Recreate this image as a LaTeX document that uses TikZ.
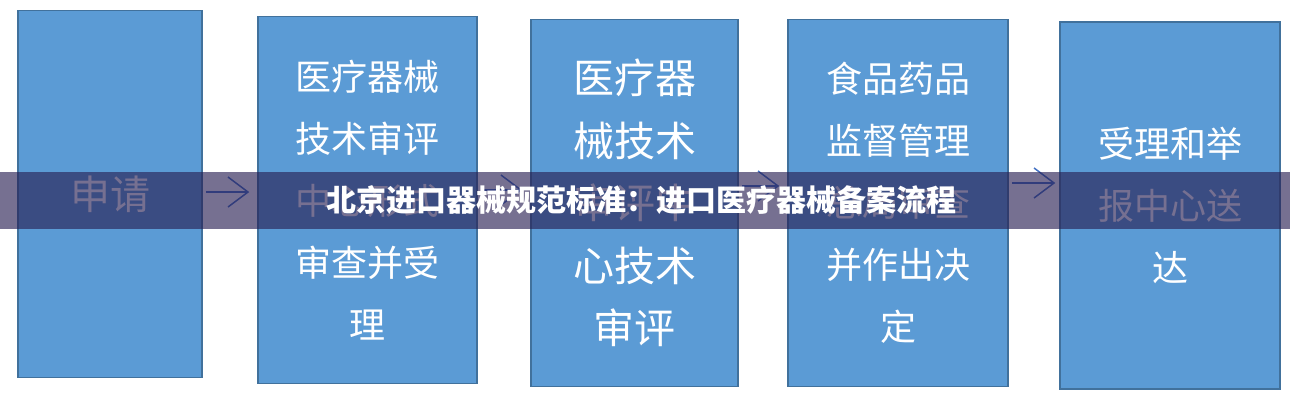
\documentclass[tikz,border=0pt]{standalone}
\usepackage{fontspec}
\usetikzlibrary{arrows.meta}
\newfontfamily\cjk{Noto Sans CJK SC}
\definecolor{boxfill}{HTML}{5B9BD5}
\definecolor{boxline}{HTML}{41719C}
\definecolor{arrline}{HTML}{4472C4}
\definecolor{bandcol}{RGB}{39,30,82}
\begin{document}
\begin{tikzpicture}[x=1pt, y=-1pt,
    stepbox/.style={draw=boxline, fill=boxfill, line width=1.5pt, rectangle,
        text=white, align=center, inner sep=0pt, minimum height=367pt,
        font=\cjk\fontsize{36}{62}\selectfont},
    arr/.style={draw=arrline, line width=1.5pt, -{Straight Barb[length=20pt, width=30pt, line width=1.5pt]}}]
    \useasboundingbox (0,0) rectangle (1290,400);
    \fill[white] (0,0) rectangle (1290,400);
    \node[stepbox, minimum width=184pt, font=\cjk\fontsize{40}{62}\selectfont] (apply) at (110,194) {申请};
    \node[stepbox, minimum width=219pt] (check) at (367.5,200) {医疗器械\\技术审评\\中心形式\\审查并受\\理};
    \node[stepbox, minimum width=207pt, font=\cjk\fontsize{41}{62.5}\selectfont] (review) at (634.5,203) {医疗器\\械技术\\审评中\\心技术\\审评};
    \node[stepbox, minimum width=220pt] (decide) at (898,203) {食品药品\\监督管理\\总局审查\\并作出决\\定};
    \node[stepbox, minimum width=220pt] (deliver) at (1170,205.5) {受理和举\\报中心送\\达};
    \draw[arr, shorten <=3pt, shorten >=8pt] ([yshift=2pt]apply.east) -- ([yshift=2pt]apply.east -| check.west);
    \draw[arr, shorten <=3pt, shorten >=8pt] ([yshift=10pt]check.east) -- ([yshift=10pt]check.east -| review.west);
    \draw[arr, shorten <=3pt, shorten >=8pt] ([yshift=17pt]review.east) -- ([yshift=17pt]review.east -| decide.west);
    \draw[arr, shorten <=3pt, shorten >=4pt] ([yshift=20pt]decide.east) -- ([yshift=20pt]decide.east -| deliver.west);
    % title band over the flow
    \node[fill=bandcol, fill opacity=0.63, minimum width=1290pt, minimum height=57pt, inner sep=0pt] (band) at (645,200.5) {};
    \node[text=white, inner sep=0pt, font=\cjk\bfseries\fontsize{30}{30}\selectfont] (title) at (641,200) {北京进口器械规范标准：进口医疗器械备案流程};
\end{tikzpicture}
\end{document}
